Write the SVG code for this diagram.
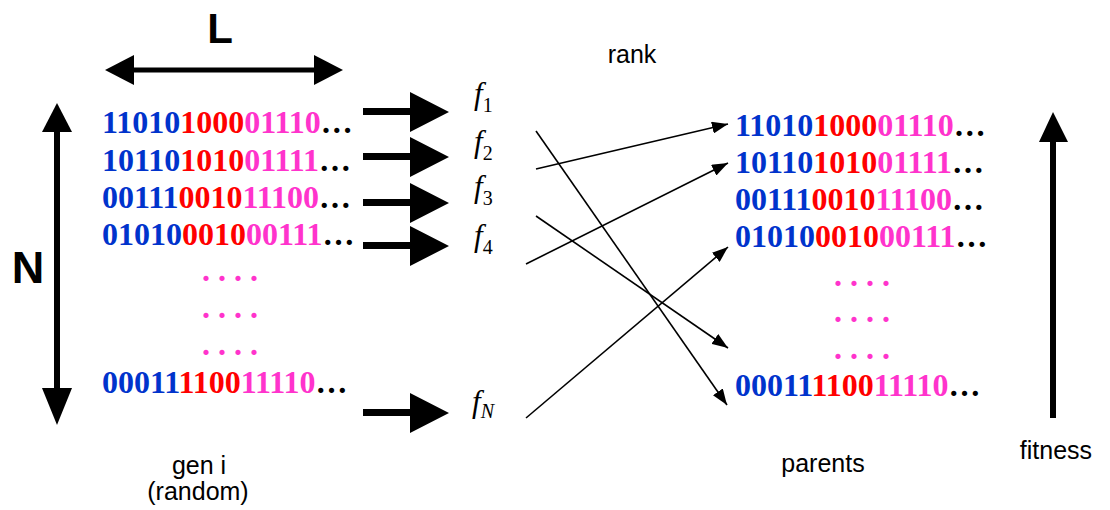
<svg xmlns="http://www.w3.org/2000/svg" width="1110" height="510" viewBox="0 0 1110 510">
<style>
.bits{font-family:"Liberation Serif","Times New Roman",serif;font-weight:bold;font-size:32px}
.b{fill:#0033CC}.r{fill:#FF0000}.p{fill:#FF33CC}.k{fill:#000}
.dots{font-family:"Liberation Serif","Times New Roman",serif;font-weight:bold;font-size:32px;fill:#FF33CC}
.lbl{font-family:"Liberation Sans",Arial,sans-serif;font-size:25px;fill:#000}
.big{font-family:"Liberation Sans",Arial,sans-serif;font-weight:bold;fill:#000}
.f{font-family:"Liberation Serif","Times New Roman",serif;font-style:italic;font-size:31px;fill:#000}
.sub{font-style:normal;font-size:20px}
.subi{font-style:italic;font-size:20px}
.conn{stroke:#000;stroke-width:1.6;fill:none;marker-end:url(#ah)}
.blk{fill:#000}
</style>
<defs>
<marker id="ah" markerUnits="userSpaceOnUse" markerWidth="17" markerHeight="12" refX="16" refY="6" orient="auto">
<path d="M0,0 L16,6 L0,12 z" fill="#000"/>
</marker>
</defs>

<g id="L-dimension">
<line x1="130" y1="70" x2="318" y2="70" stroke="#000" stroke-width="5"/>
<polygon points="105,70 134,55 134,85" class="blk"/>
<polygon points="343,70 314,55 314,85" class="blk"/>
<text x="220" y="43" class="big" font-size="42" text-anchor="middle">L</text>
</g>

<g id="N-dimension">
<line x1="57" y1="128" x2="57" y2="392" stroke="#000" stroke-width="6"/>
<polygon points="57,103 42,132 72,132" class="blk"/>
<polygon points="57,425 42,388 72,388" class="blk"/>
<text x="28" y="283" class="big" font-size="45" text-anchor="middle">N</text>
</g>

<g id="gen-i">
<text class="bits" x="102" y="133"><tspan class="b">11010</tspan><tspan class="r">1000</tspan><tspan class="p">01110</tspan><tspan class="k">…</tspan></text>
<text class="bits" x="102" y="171"><tspan class="b">10110</tspan><tspan class="r">1010</tspan><tspan class="p">01111</tspan><tspan class="k">…</tspan></text>
<text class="bits" x="102" y="208"><tspan class="b">00111</tspan><tspan class="r">0010</tspan><tspan class="p">11100</tspan><tspan class="k">…</tspan></text>
<text class="bits" x="102" y="245"><tspan class="b">01010</tspan><tspan class="r">0010</tspan><tspan class="p">00111</tspan><tspan class="k">…</tspan></text>
<text class="dots" x="202" y="281">. . . .</text>
<text class="dots" x="202" y="318">. . . .</text>
<text class="dots" x="202" y="355">. . . .</text>
<text class="bits" x="102" y="393"><tspan class="b">00011</tspan><tspan class="r">1100</tspan><tspan class="p">11110</tspan><tspan class="k">…</tspan></text>
<text class="lbl" x="199" y="474" text-anchor="middle">gen i</text>
<text class="lbl" x="198" y="500" text-anchor="middle">(random)</text>
</g>

<g id="eval-arrows">
<polygon points="363,108 410,108 410,92 449,112 410,132 410,115 363,115" class="blk"/>
<polygon points="363,153 410,153 410,137 449,157 410,177 410,160 363,160" class="blk"/>
<polygon points="363,199 410,199 410,183 449,203 410,223 410,206 363,206" class="blk"/>
<polygon points="363,242 410,242 410,226 449,246 410,266 410,249 363,249" class="blk"/>
<polygon points="363,409 410,409 410,393 449,413 410,433 410,416 363,416" class="blk"/>
</g>

<g id="fitness-values">
<text class="f" x="474" y="104">f<tspan class="sub" dy="8">1</tspan></text>
<text class="f" x="474" y="152">f<tspan class="sub" dy="8">2</tspan></text>
<text class="f" x="474" y="197">f<tspan class="sub" dy="8">3</tspan></text>
<text class="f" x="474" y="246">f<tspan class="sub" dy="8">4</tspan></text>
<text class="f" x="472" y="412">f<tspan class="subi" dy="6">N</tspan></text>
<text class="lbl" x="632" y="63" text-anchor="middle">rank</text>
</g>

<g id="connectors">
<line class="conn" x1="536" y1="131" x2="727" y2="405"/>
<line class="conn" x1="536" y1="169" x2="728" y2="124"/>
<line class="conn" x1="536" y1="216" x2="728" y2="348"/>
<line class="conn" x1="526" y1="264" x2="728" y2="163"/>
<line class="conn" x1="526" y1="418" x2="728" y2="247"/>
</g>

<g id="parents">
<text class="bits" x="735" y="136"><tspan class="b">11010</tspan><tspan class="r">1000</tspan><tspan class="p">01110</tspan><tspan class="k">…</tspan></text>
<text class="bits" x="735" y="173"><tspan class="b">10110</tspan><tspan class="r">1010</tspan><tspan class="p">01111</tspan><tspan class="k">…</tspan></text>
<text class="bits" x="735" y="210"><tspan class="b">00111</tspan><tspan class="r">0010</tspan><tspan class="p">11100</tspan><tspan class="k">…</tspan></text>
<text class="bits" x="735" y="247"><tspan class="b">01010</tspan><tspan class="r">0010</tspan><tspan class="p">00111</tspan><tspan class="k">…</tspan></text>
<text class="dots" x="834" y="286">. . . .</text>
<text class="dots" x="834" y="322">. . . .</text>
<text class="dots" x="834" y="359">. . . .</text>
<text class="bits" x="735" y="396"><tspan class="b">00011</tspan><tspan class="r">1100</tspan><tspan class="p">11110</tspan><tspan class="k">…</tspan></text>
<text class="lbl" x="823" y="472" text-anchor="middle">parents</text>
</g>

<g id="fitness-axis">
<line x1="1053" y1="138" x2="1053" y2="418" stroke="#000" stroke-width="6"/>
<polygon points="1053,112 1039,142 1068,142" class="blk"/>
<text class="lbl" x="1056" y="459" text-anchor="middle">fitness</text>
</g>
</svg>
